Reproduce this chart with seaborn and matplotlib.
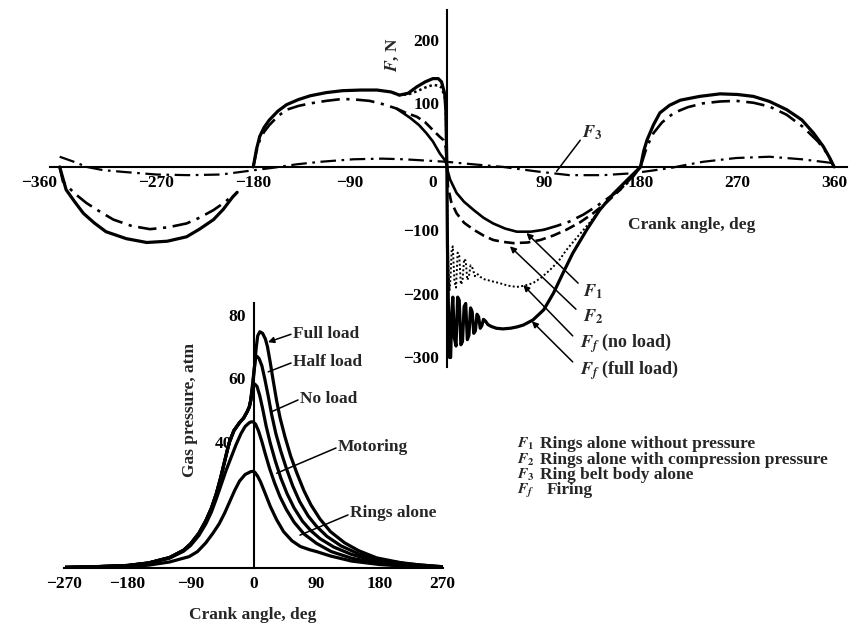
import matplotlib
matplotlib.use("Agg")
import matplotlib.pyplot as plt
import seaborn as sns
from matplotlib.transforms import ScaledTranslation

# ---------------- DATA: upper panel (friction force, N vs crank angle, deg) ----------------
f3_ang = [-360, -345, -335, -320, -300, -270, -240, -210, -183, -160, -140, -118, -87, -60, -40, 0,
          25, 52, 83, 114, 145, 173, 190, 207, 222, 238, 269, 300, 330, 359]
f3_val = [16, 7, 0, -5, -8, -12, -13, -12, -6, -1, 4, 8, 12, 13, 12, 8,
          4, 0, -7, -13, -13, -10, -6, -2, 3, 8, 14, 16, 12, 6]

ff_full_ang = [-180, -177, -174, -170, -165, -157, -149, -138, -127, -112, -97, -80, -65, -52, -44, -36,
               -28, -20, -13, -8, -5, -2, -1, 0,
               0.5, 1.5, 2.5, 3.5, 4.5, 5.5, 7, 8.5, 10, 11.5, 13, 14.5, 16, 17.5, 19, 20.5, 22, 23.5,
               25, 26.5, 28, 29.5, 31, 32.5, 34, 36, 38, 41, 46, 52, 59, 65, 71, 80, 90, 99, 108, 117,
               130, 142, 155, 168, 180]
ff_full_val = [0, 28, 48, 62, 74, 88, 98, 106, 112, 117, 120, 121, 121, 118, 113, 116,
               126, 134, 139, 139, 134, 115, 90, 0,
               -120, -230, -300, -300, -230, -205, -270, -282, -205, -210, -280, -275, -220, -215, -272, -265,
               -222, -228, -262, -258, -232, -236, -254, -250, -240, -243, -248, -251, -254, -255, -254, -252,
               -249, -241, -225, -199, -167, -136, -99, -68, -42, -20, 0]

ff_noload_pos_ang = [-50, -45, -36, -28, -20, -13, -8, -5, -2, -1, 0]
ff_noload_pos_val = [117, 113, 114, 119, 125, 129, 128, 125, 110, 90, 0]
ff_noload_neg_ang = [0, 0.5, 1.5, 2.5, 3.5, 4.5, 5.5, 7, 8.5, 10, 11.5, 13, 14.5, 16, 17.5, 19, 20.5,
                     22, 24, 26, 28, 31, 35, 42, 49, 57, 65, 72, 80, 88, 96, 104, 111, 119, 127, 135,
                     142, 155, 168, 180]
ff_noload_neg_val = [0, -100, -160, -195, -170, -130, -125, -180, -190, -135, -140, -185, -180, -145,
                     -148, -178, -172, -155, -160, -172, -168, -173, -177, -180, -183, -187, -189, -187,
                     -183, -174, -162, -148, -131, -115, -99, -83, -68, -42, -20, 0]

f12_shared_ang = [-180, -177, -174, -170, -165, -157, -149, -138, -127, -112, -97, -85, -72, -60, -47]
f12_shared_val = [0, 25, 42, 55, 66, 80, 90, 96, 100, 104, 107, 106, 104, 99, 92]

f1_ang = [-47, -40, -34, -26, -19, -13, -6.5, -2, 0, 0.5, 3, 9, 16, 25, 34, 43, 54, 65, 78, 90]
f1_val = [92, 84, 77, 66, 53, 40, 21, 11, 3, -5, -20, -41, -55, -68, -80, -89, -97, -102, -102, -99]
f1_tail_ang = [90, 102, 114, 127, 139, 150, 161, 171, 180]
f1_tail_val = [-99, -93, -86, -75, -62, -49, -36, -20, 0]

f2_ang = [-47, -38, -28, -20, -13, -7, -3, -1, 0, 0.5, 1, 4, 9, 16, 25, 34, 43, 52, 62, 75, 87, 99,
          111, 124, 136, 149, 161, 171, 180]
f2_val = [92, 85, 79, 70, 58, 48, 42, 30, 0, -15, -31, -55, -73, -88, -99, -108, -115, -118, -120,
          -119, -115, -108, -99, -87, -73, -55, -36, -18, 0]

intake_outer_ang = [-360, -357, -354, -346, -338, -328, -317, -298, -279, -260, -242, -230, -217, -208, -199, -195]
intake_outer_val = [0, -18, -36, -55, -73, -88, -102, -113, -119, -117, -110, -98, -83, -67, -47, -40]
intake_inner_ang = [-360, -357, -346, -335, -322, -310, -293, -276, -259, -242, -230, -217, -206, -199]
intake_inner_val = [0, -23, -42, -57, -71, -83, -93, -98, -95, -89, -80, -68, -55, -44]

power_outer_ang = [180, 183, 186, 192, 198, 207, 217, 235, 254, 270, 285, 300, 316, 330, 341, 350, 356, 360]
power_outer_val = [0, 25, 42, 66, 85, 97, 105, 111, 115, 114, 111, 103, 90, 74, 53, 32, 14, 0]
power_inner_ang = [180, 186, 192, 200, 211, 224, 238, 254, 269, 285, 300, 316, 331, 345, 354, 360]
power_inner_val = [0, 32, 53, 70, 85, 94, 100, 103, 104, 101, 95, 82, 63, 40, 20, 0]

top_xticks = [-360, -270, -180, -90, 0, 90, 180, 270, 360]
top_yticks = [-300, -200, -100, 100, 200]

# ---------------- DATA: lower panel (gas pressure, atm vs crank angle, deg) ----------------
firing_rise_ang = [-270, -225, -180, -150, -120, -100, -90, -78, -68, -60, -53, -47, -41, -35, -28, -20,
                   -14, -9, -6, -4]
firing_rise_val = [0.2, 0.4, 0.8, 1.6, 3.3, 5.6, 7.6, 11, 15, 19, 23.6, 28.5, 34, 39.5, 43.5, 46,
                   47.5, 49.5, 51, 53]
full_load_ang = [-1, 2, 4, 6, 9, 13, 17, 20, 24, 28, 33, 38, 45, 53, 62, 72, 82, 95, 110, 130, 150, 176,
                 210, 240, 270]
full_load_val = [58, 65, 70, 73.5, 74.8, 74.3, 72.5, 70, 65, 59.5, 53, 47.5, 41.5, 35.5, 30, 24.5, 20,
                 15.5, 11.5, 8, 5.5, 3.2, 1.7, 0.9, 0.4]
half_load_ang = [-2, 1, 3, 5, 8, 12, 16, 21, 26, 32, 39, 47, 56, 66, 78, 90, 105, 125, 150, 180, 220, 270]
half_load_val = [57, 63, 66.5, 67, 66.3, 64, 60, 54.5, 48.5, 42.5, 37, 31.5, 26, 21, 16.5, 13.2, 10, 7,
                 4.5, 2.6, 1.3, 0.4]
no_load_ang = [-1, 2, 5, 9, 13, 18, 24, 31, 39, 48, 58, 70, 82, 95, 115, 140, 165, 195, 230, 270]
no_load_val = [57, 58.2, 57.5, 54.5, 50.5, 45, 39.5, 34, 28.5, 23.5, 19, 14.8, 11.8, 9.3, 6.6, 4.3, 2.8,
               1.6, 0.8, 0.3]
motoring_ang = [-270, -180, -150, -120, -100, -90, -78, -68, -60, -53, -46, -39, -32, -25, -18, -12, -6,
                -3, 0, 3, 7, 12, 17, 23, 30, 38, 47, 58, 72, 90, 111, 140, 180, 220, 270]
motoring_val = [0.2, 0.7, 1.5, 3.1, 5.3, 7.1, 10.3, 14, 17.8, 22, 26.5, 31, 35, 39, 42.5, 44.8, 46,
                46.3, 46.2, 45.5, 43.5, 40, 36, 31.5, 27, 22.5, 18.5, 14.5, 10.8, 7.8, 5.2, 3.1, 1.5,
                0.7, 0.3]
rings_ang = [-270, -180, -150, -120, -92, -80, -68, -58, -49, -41, -34, -27, -20, -12, -4, -1, 2, 6, 10,
             16, 24, 33, 43, 55, 67, 80, 90, 110, 140, 180, 220, 270]
rings_val = [0.1, 0.4, 0.9, 1.9, 3.6, 5.2, 8, 11, 14, 17.5, 21, 24.5, 27.5, 29.6, 30.5, 30.6, 30.3, 29,
             27.3, 24, 19.5, 15.3, 11.5, 8.6, 6.8, 5.8, 5.2, 3.8, 2.2, 1.1, 0.5, 0.2]
low_xticks = [-270, -180, -90, 0, 90, 180, 270]
low_yticks = [20, 40, 60, 80]
low_yticklabels = ["", "40", "60", "80"]

legend_keys = ["$F_1$", "$F_2$", "$F_3$", "$F_f$"]
legend_texts = ["Rings alone without pressure", "Rings alone with compression pressure",
                "Ring belt body alone", "Firing"]

# ---------------- STYLE ----------------
sns.set_theme(style="white")
plt.rcParams["font.family"] = ["Liberation Serif", "DejaVu Serif"]
plt.rcParams["font.weight"] = "bold"
plt.rcParams["mathtext.fontset"] = "stix"
FS = 12.5
K = "black"
DASHDOT = (0, (7, 2.5, 1.2, 2.5))
DASHED = (0, (4, 2))

W, H = 849, 626
fig = plt.figure(figsize=(W / 100, H / 100), dpi=100)
fig.patch.set_facecolor("white")


def px_axes(x0, x1, y0, y1):
    return fig.add_axes([x0 / W, 1 - y1 / H, (x1 - x0) / W, (y1 - y0) / H])


def cross_axes(ax):
    ax.set_facecolor("none")
    for s in ["top", "right"]:
        ax.spines[s].set_visible(False)
    for s in ["left", "bottom"]:
        ax.spines[s].set_position(("data", 0))
        ax.spines[s].set_color(K)
        ax.spines[s].set_linewidth(1.5)
    ax.tick_params(direction="inout", length=7, width=1.3, color=K, labelsize=FS, pad=2,
                   labelcolor=K)
    ax.grid(False)


def line(ax, x, y, lw=2.0, ls="-"):
    sns.lineplot(x=x, y=y, ax=ax, color=K, lw=lw, linestyle=ls, sort=False, estimator=None)


def shift_label(lbl, dx_px):
    lbl.set_transform(lbl.get_transform() + ScaledTranslation(dx_px / 100, 0, fig.dpi_scale_trans))


# ---------------- UPPER PANEL ----------------
ax = px_axes(50, 847, 10, 367)
ax.set_xlim(-369, 372)
ax.set_ylim(-315, 247)
cross_axes(ax)

line(ax, f3_ang, f3_val, lw=1.6, ls=DASHDOT)
line(ax, intake_outer_ang, intake_outer_val, lw=2.3)
line(ax, intake_inner_ang, intake_inner_val, lw=1.9, ls=DASHDOT)
line(ax, power_outer_ang, power_outer_val, lw=2.3)
line(ax, power_inner_ang, power_inner_val, lw=1.9, ls=DASHDOT)
line(ax, f12_shared_ang, f12_shared_val, lw=1.9, ls=DASHDOT)
line(ax, f1_ang, f1_val, lw=1.9)
line(ax, f1_tail_ang, f1_tail_val, lw=1.9, ls=DASHDOT)
line(ax, f2_ang, f2_val, lw=1.9, ls=DASHED)
line(ax, ff_noload_pos_ang, ff_noload_pos_val, lw=1.8, ls=(0, (1, 1.2)))
line(ax, ff_noload_neg_ang, ff_noload_neg_val, lw=1.4, ls=(0, (1, 1.2)))
line(ax, ff_full_ang, ff_full_val, lw=2.3)

ax.set_xticks(top_xticks)
ax.set_xticklabels([f"{v:d}".replace("-", "\u2212") for v in top_xticks])
ax.set_yticks(top_yticks)
ax.set_yticklabels([f"{v:d}".replace("-", "\u2212") for v in top_yticks])
for t in ax.xaxis.get_major_ticks():
    if t.get_loc() == -360:
        shift_label(t.label1, -21)
    if t.get_loc() == 0:
        shift_label(t.label1, -14)
        t.tick1line.set_visible(False)
ax.set_xlabel("")
ax.set_ylabel("")

arrow_kw = dict(arrowstyle="-|>", lw=1.1, color=K, shrinkA=0, shrinkB=0, mutation_scale=9)
plain_kw = dict(arrowstyle="-", lw=1.1, color=K, shrinkA=0, shrinkB=0)
ax.annotate("", xy=(102, -7), xytext=(124, 42), arrowprops=plain_kw)
ax.text(126, 53, "$F_3$", fontsize=FS + 0.5, va="center", ha="left")
top_labels = [("$F_1$", (126.5, -197), (122, -183), (74, -104)),
              ("$F_2$", (126.5, -236), (120, -224), (58.6, -125)),
              ("$F_f$ (no load)", (123.7, -277), (117, -266), (71, -186)),
              ("$F_f$ (full load)", (123.7, -320), (117, -307), (79, -243))]
for txt, tpos, a0, a1 in top_labels:
    ax.text(tpos[0], tpos[1], txt, fontsize=FS + 0.5, va="center", ha="left")
    ax.annotate("", xy=a1, xytext=a0, arrowprops=arrow_kw)

fig.text(392 / W, 1 - 55 / H, "$F$, N", rotation=90, fontsize=FS, ha="center", va="center")
fig.text(692 / W, 1 - 225 / H, "Crank angle, deg", fontsize=FS, ha="center", va="center")

# ---------------- LOWER PANEL ----------------
ax2 = px_axes(64.5, 442.5, 303, 568)
ax2.set_xlim(-270, 270)
ax2.set_ylim(0, 83.9)
cross_axes(ax2)
for ang_r, val_r in [(full_load_ang, full_load_val), (half_load_ang, half_load_val),
                     (no_load_ang, no_load_val)]:
    line(ax2, firing_rise_ang + ang_r, firing_rise_val + val_r, lw=2.3)
line(ax2, motoring_ang, motoring_val, lw=2.3)
line(ax2, rings_ang, rings_val, lw=2.3)
ax2.set_xticks(low_xticks)
ax2.set_xticklabels([f"{v:d}".replace("-", "\u2212") for v in low_xticks])
ax2.set_yticks(low_yticks)
ax2.set_yticklabels(low_yticklabels)
for t in ax2.yaxis.get_major_ticks():
    if t.get_loc() == 40:
        shift_label(t.label1, -14)
for t in ax2.xaxis.get_major_ticks():
    if t.get_loc() == 0:
        t.tick1line.set_visible(False)
ax2.set_xlabel("")
ax2.set_ylabel("")

low_labels = [("Full load", (56.4, 74), (53.6, 74), (20.7, 71.5), True),
              ("Half load", (56.4, 65.2), (53.6, 64.9), (21, 62.1), False),
              ("No load", (66.4, 53.5), (63.6, 53.2), (26, 49.5), False),
              ("Motoring", (120.7, 38.3), (117.9, 38), (33, 30), False),
              ("Rings alone", (137.9, 17.4), (135, 16.8), (66.4, 10.4), False)]
for txt, tpos, a0, a1, head in low_labels:
    ax2.text(tpos[0], tpos[1], txt, fontsize=FS, va="center", ha="left")
    ax2.annotate("", xy=a1, xytext=a0, arrowprops=arrow_kw if head else plain_kw)

fig.text(190 / W, 1 - 410 / H, "Gas pressure, atm", rotation=90, fontsize=FS, ha="center", va="center")
fig.text(253 / W, 1 - 615 / H, "Crank angle, deg", fontsize=FS, ha="center", va="center")

# ---------------- KEY BLOCK ----------------
rows_y = [444, 459.5, 475, 490.5]
desc_x = [540, 540, 540, 547]
for k, d, y, dx in zip(legend_keys, legend_texts, rows_y, desc_x):
    fig.text(517 / W, 1 - y / H, k, fontsize=11, ha="left", va="center")
    fig.text(dx / W, 1 - y / H, d, fontsize=12.5, ha="left", va="center")

fig.savefig("out.png", dpi=100, facecolor="white")
